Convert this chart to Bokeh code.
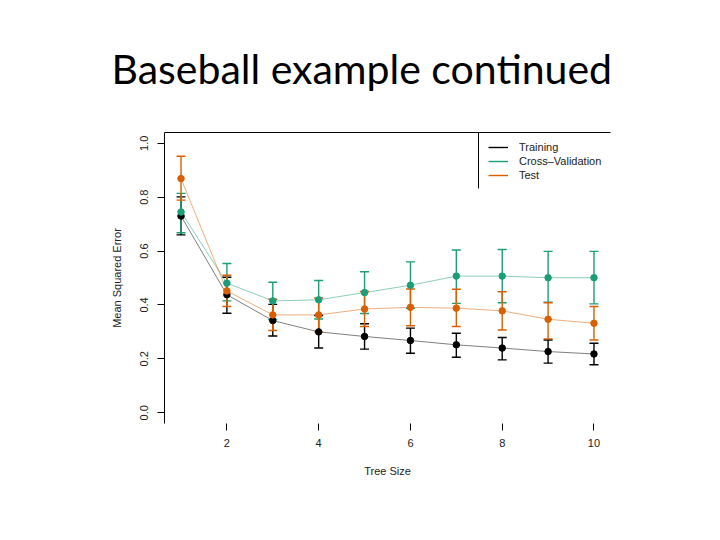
import numpy as np
from bokeh.plotting import figure
from bokeh.models import (Range1d, FixedTicker, LinearAxis, Legend, LegendItem,
                          NumeralTickFormatter)
from bokeh.embed import file_html
from bokeh.resources import INLINE

# ---------------- data ----------------
tree_size = [1, 2, 3, 4, 5, 6, 7, 8, 9, 10]

train_mean  = [0.730, 0.438, 0.342, 0.300, 0.283, 0.268, 0.252, 0.240, 0.227, 0.218]
train_lower = [0.660, 0.369, 0.285, 0.240, 0.236, 0.221, 0.206, 0.196, 0.184, 0.178]
train_upper = [0.801, 0.503, 0.402, 0.361, 0.330, 0.314, 0.295, 0.279, 0.270, 0.258]

cv_mean  = [0.745, 0.481, 0.415, 0.419, 0.446, 0.473, 0.507, 0.507, 0.501, 0.501]
cv_lower = [0.668, 0.415, 0.346, 0.348, 0.368, 0.388, 0.406, 0.408, 0.410, 0.404]
cv_upper = [0.814, 0.554, 0.484, 0.491, 0.523, 0.560, 0.604, 0.606, 0.599, 0.599]

test_mean  = [0.869, 0.452, 0.363, 0.363, 0.385, 0.391, 0.388, 0.378, 0.347, 0.332]
test_lower = [0.789, 0.394, 0.305, 0.300, 0.320, 0.323, 0.320, 0.307, 0.274, 0.270]
test_upper = [0.952, 0.510, 0.421, 0.426, 0.450, 0.459, 0.458, 0.449, 0.408, 0.394]

series_names = ["Training", "Cross\u2013Validation", "Test"]
series_colors = ["black", "#1B9E77", "#D95F02"]
x_ticks = [2, 4, 6, 8, 10]
y_ticks = [0.0, 0.2, 0.4, 0.6, 0.8, 1.0]

title_text = "Baseball example continued"
x_label = "Tree Size"
y_label = "Mean Squared Error"

# ---------------- layout ----------------
W, H = 712, 532
X0, X1 = 0.64, 10.36
Y0, Y1 = -0.04, 1.04
BL, BR, BT, BB = 164, 102, 132, 109
FW, FH = W - BL - BR, H - BT - BB

FONT = "Liberation Sans"

p = figure(width=W, height=H, output_backend="svg", toolbar_location=None,
           x_range=Range1d(X0, X1), y_range=Range1d(Y0, Y1),
           min_border_left=BL, min_border_right=BR,
           min_border_top=BT, min_border_bottom=BB)
p.outline_line_color = None
p.grid.visible = False
p.background_fill_color = "white"
p.border_fill_color = "white"

# slide title
p.title.text = title_text
p.title.text_font = "Lato"
p.title.text_font_size = "41px"
p.title.text_font_style = "normal"
p.title.text_color = "black"
p.title.align = "left"
p.title.offset = -53
p.title.standoff = 80

# x axis (R style: ticks, no line)
xa = p.xaxis[0]
xa.ticker = FixedTicker(ticks=x_ticks)
xa.axis_line_color = None
xa.major_tick_out = 7
xa.major_tick_in = 0
xa.major_tick_line_color = "black"
xa.minor_tick_line_color = None
xa.major_label_text_font = FONT
xa.major_label_text_font_size = "11px"
xa.major_label_text_color = "#222222"
xa.major_label_standoff = 8
xa.axis_label = x_label
xa.axis_label_text_font = FONT
xa.axis_label_text_font_size = "11px"
xa.axis_label_text_font_style = "normal"
xa.axis_label_text_color = "#222222"
xa.axis_label_standoff = 15

ya = p.yaxis[0]
ya.ticker = FixedTicker(ticks=y_ticks)
ya.formatter = NumeralTickFormatter(format="0.0")
ya.axis_line_color = "black"
ya.major_tick_out = 7
ya.major_tick_in = 0
ya.minor_tick_line_color = None
ya.major_label_orientation = "vertical"
ya.major_label_text_font = FONT
ya.major_label_text_font_size = "11px"
ya.major_label_text_color = "#222222"
ya.major_label_standoff = 9
ya.axis_label = y_label
ya.axis_label_text_font = FONT
ya.axis_label_text_font_size = "11px"
ya.axis_label_text_font_style = "normal"
ya.axis_label_text_color = "#222222"
ya.axis_label_standoff = 15

top_axis = LinearAxis(ticker=FixedTicker(ticks=[]), major_label_text_font_size="0px",
                      major_tick_line_color=None, minor_tick_line_color=None,
                      axis_line_color="black")
p.add_layout(top_axis, "above")

# ---------------- series ----------------
all_series = [
    (train_mean, train_lower, train_upper),
    (cv_mean, cv_lower, cv_upper),
    (test_mean, test_lower, test_upper),
]

for (m, lo, hi), c in zip(all_series, series_colors):
    p.line(tree_size, m, line_color=c, line_width=1, line_alpha=0.5)

legend_renderers = []
for (m, lo, hi), c in zip(all_series, series_colors):
    seg = p.segment(x0=tree_size, y0=lo, x1=tree_size, y1=hi, line_color=c, line_width=1.4)
    p.scatter(tree_size, lo, marker="dash", size=9, line_color=c, line_width=1.4)
    p.scatter(tree_size, hi, marker="dash", size=9, line_color=c, line_width=1.4)
    legend_renderers.append(seg)

for (m, lo, hi), c in zip(all_series, series_colors):
    p.scatter(tree_size, m, marker="circle", size=6.5, fill_color=c, line_color=c)

# ---------------- legend ----------------
LEG_GLYPH_X = 324   # px from frame left where legend keys start
LEG_BORDER_X = 314  # px from frame left of legend box edge
LEG_H = 56
legend = Legend(items=[LegendItem(label=n, renderers=[r]) for n, r in zip(series_names, legend_renderers)],
                location=(LEG_GLYPH_X, FH - LEG_H + 7), padding=8, spacing=2, margin=0,
                glyph_width=20, glyph_height=12, label_height=12, label_standoff=11,
                label_text_font=FONT, label_text_font_size="11px", label_text_color="#222222",
                border_line_color=None, background_fill_alpha=0)
p.add_layout(legend)

px_per_x = FW / (X1 - X0)
px_per_y = FH / (Y1 - Y0)
lx = X0 + LEG_BORDER_X / px_per_x
ly = Y1 - LEG_H / px_per_y
p.segment(x0=[lx], y0=[ly], x1=[lx], y1=[Y1], line_color="black", line_width=1)

open("out.html", "w").write(file_html(p, INLINE))
